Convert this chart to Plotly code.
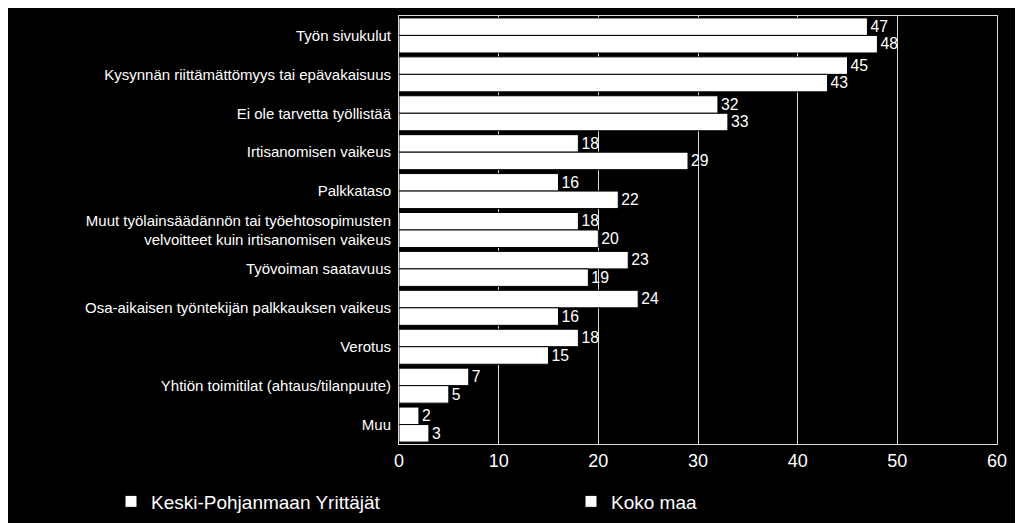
import plotly.graph_objects as go

categories = [
    "Työn sivukulut",
    "Kysynnän riittämättömyys tai epävakaisuus",
    "Ei ole tarvetta työllistää",
    "Irtisanomisen vaikeus",
    "Palkkataso",
    "Muut työlainsäädännön tai työehtosopimusten<br>velvoitteet kuin irtisanomisen vaikeus",
    "Työvoiman saatavuus",
    "Osa-aikaisen työntekijän palkkauksen vaikeus",
    "Verotus",
    "Yhtiön toimitilat (ahtaus/tilanpuute)",
    "Muu",
]
keski_pohjanmaa = [47, 45, 32, 18, 16, 18, 23, 24, 18, 7, 2]
koko_maa = [48, 43, 33, 29, 22, 20, 19, 16, 15, 5, 3]

fig = go.Figure()
for name, vals in [("Keski-Pohjanmaan Yrittäjät", keski_pohjanmaa), ("Koko maa", koko_maa)]:
    fig.add_trace(go.Bar(
        y=categories, x=vals, name=name, orientation="h",
        marker=dict(color="white", line=dict(color="black", width=1)),
        text=vals, textposition="outside", cliponaxis=False,
        textfont=dict(color="white", size=18, family="Liberation Sans"),
    ))

fig.update_layout(
    barmode="group", bargap=0.1, bargroupgap=0,
    paper_bgcolor="black", plot_bgcolor="black",
    width=1023, height=523,
    margin=dict(l=391, r=34, t=8, b=87),
    font=dict(color="white", family="Liberation Sans", size=14),
    legend=dict(orientation="h", x=-0.085, y=-0.09, xanchor="left", yanchor="top",
                font=dict(size=19), itemwidth=30, entrywidth=415),
)
fig.update_xaxes(range=[0, 60], dtick=10, showgrid=True, gridcolor="#d9d9d9", gridwidth=1,
                 tickfont=dict(size=18), showline=True, linecolor="#d9d9d9", mirror=True,
                 zeroline=False, automargin=False)
fig.update_yaxes(autorange="reversed", tickfont=dict(size=15), showline=True,
                 linecolor="#d9d9d9", mirror=True, ticks="", ticklabelstandoff=4,
                 automargin=False)

fig.write_html("out.html")
